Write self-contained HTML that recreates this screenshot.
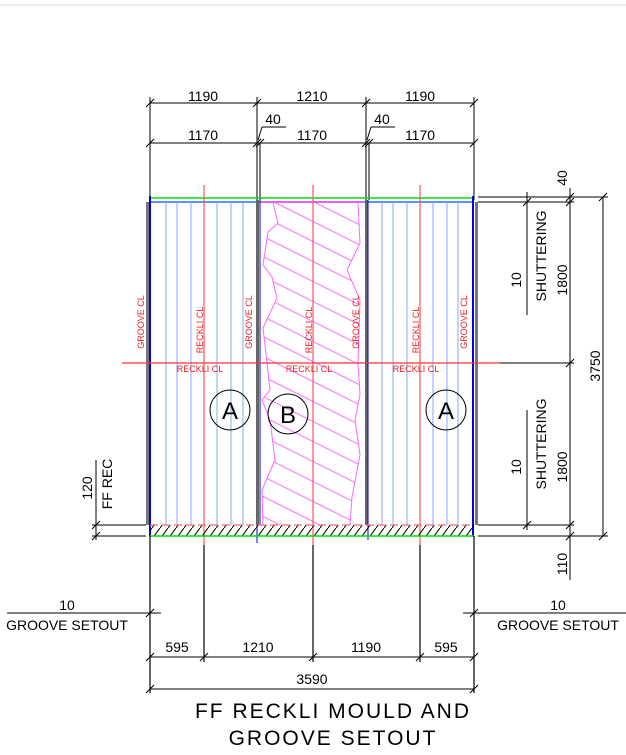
<!DOCTYPE html>
<html><head><meta charset="utf-8"><style>
html,body{margin:0;padding:0;background:#fff;}
svg{display:block;}
text{font-family:"Liberation Sans","DejaVu Sans",sans-serif;}
</style></head><body>
<svg width="626" height="755" viewBox="0 0 626 755" xmlns="http://www.w3.org/2000/svg">
<defs>
<clipPath id="zz"><polygon points="273,203 278,223 268,232 263,265 272,277 277,298 263,328 267,363 270,390 262,400 270,420 275,460 262,490 263,525 350,525 352,497 360,455 355,420 360,395 358,363 360,300 347,270 360,243 358,203"/></clipPath>
<pattern id="hatch" width="8" height="11" patternUnits="userSpaceOnUse"><line x1="0" y1="11" x2="8" y2="0" stroke="#000" stroke-width="1"/></pattern>
</defs>
<rect width="626" height="755" fill="#fff"/>
<line x1="0" y1="5" x2="626" y2="5" stroke="#ddd"/>

<g stroke="#000" stroke-width="1">
<line x1="150" y1="103" x2="474" y2="103"/>
<line x1="150" y1="143" x2="474" y2="143"/>
<line x1="150" y1="97" x2="150" y2="200"/>
<line x1="257" y1="97" x2="257" y2="200"/>
<line x1="366" y1="97" x2="366" y2="200"/>
<line x1="474" y1="97" x2="474" y2="200"/>
<line x1="260" y1="143" x2="260" y2="200"/>
<line x1="369" y1="143" x2="369" y2="200"/>
<line x1="262" y1="127" x2="286" y2="127"/><line x1="262" y1="127" x2="258" y2="140"/>
<line x1="371" y1="127" x2="395" y2="127"/><line x1="371" y1="127" x2="367" y2="140"/>
</g>
<g stroke="#000" stroke-width="1">
<path d="M146 107l8-8M253 107l8-8M362 107l8-8M470 107l8-8M146 147l8-8M253 147l8-8M256 147l8-8M362 147l8-8M365 147l8-8M470 147l8-8"/>
</g>
<g font-size="14" fill="#000" text-anchor="middle">
<text x="203" y="101">1190</text><text x="312" y="101">1210</text><text x="420" y="101">1190</text>
<text x="203" y="140">1170</text><text x="312" y="140">1170</text><text x="420" y="140">1170</text>
<text x="273" y="124">40</text><text x="382" y="124">40</text>
</g>

<line x1="150" y1="198" x2="474" y2="198" stroke="#0d0" stroke-width="1.5"/>
<line x1="150" y1="202" x2="474" y2="202" stroke="#36f" stroke-width="1.5"/>
<g stroke="#88a4ff" stroke-width="1">
<path d="M166 202V525M177 202V525M191 202V525M217 202V525M231 202V525M243 202V525M382 202V525M393 202V525M407 202V525M433 202V525M447 202V525M458 202V525"/>
</g>
<line x1="260" y1="202" x2="364" y2="202" stroke="#f4f" stroke-width="1.5"/>
<polyline points="273,203 278,223 268,232 263,265 272,277 277,298 263,328 267,363 270,390 262,400 270,420 275,460 262,490 263,525" fill="none" stroke="#f6f"/>
<polyline points="358,203 360,243 347,270 360,300 358,363 360,395 355,420 360,455 352,497 350,525" fill="none" stroke="#f6f"/>
<g clip-path="url(#zz)" stroke="#f6f" stroke-width="1">
<path d="M250 170l120 60M250 190l120 60M250 210l120 60M250 230l120 60M250 250l120 60M250 270l120 60M250 290l120 60M250 310l120 60M250 330l120 60M250 350l120 60M250 370l120 60M250 390l120 60M250 410l120 60M250 430l120 60M250 450l120 60M250 470l120 60M250 490l120 60M250 510l120 60"/>
</g>
<g>
<rect x="146" y="202" width="3" height="323" fill="#777"/>
<line x1="150" y1="196" x2="150" y2="536" stroke="#00e" stroke-width="2"/>
<rect x="256" y="200" width="3" height="325" fill="#666"/>
<line x1="260" y1="200" x2="260" y2="525" stroke="#00e" stroke-width="1"/>
<rect x="365" y="200" width="3" height="325" fill="#666"/>
<line x1="368" y1="200" x2="368" y2="540" stroke="#00e" stroke-width="1"/>
<line x1="257" y1="525" x2="257" y2="543" stroke="#00e"/>
<line x1="473" y1="196" x2="473" y2="536" stroke="#00e" stroke-width="2"/>
<rect x="475" y="202" width="3" height="323" fill="#777"/>
</g>
<g stroke="#f55" stroke-width="1.2">
<path d="M204 185V545M313 185V545M420 185V545"/>
<line x1="122" y1="363" x2="500" y2="363" stroke="#f33"/>
</g>
<g font-size="9" fill="#e22" text-anchor="middle">
<text transform="translate(144,322) rotate(-90)">GROOVE CL</text>
<text transform="translate(252,322) rotate(-90)">GROOVE CL</text>
<text transform="translate(359,322) rotate(-90)">GROOVE CL</text>
<text transform="translate(467,322) rotate(-90)">GROOVE CL</text>
<text transform="translate(203,330) rotate(-90)">RECKLI CL</text>
<text transform="translate(312,330) rotate(-90)">RECKLI CL</text>
<text transform="translate(419,330) rotate(-90)">RECKLI CL</text>
<text x="200" y="372">RECKLI CL</text><text x="309" y="372">RECKLI CL</text><text x="416" y="372">RECKLI CL</text>
</g>
<g fill="none" stroke="#000" stroke-width="1">
<circle cx="230" cy="410" r="20"/><circle cx="288" cy="414" r="20"/><circle cx="446" cy="410" r="20"/>
</g>
<g font-size="24" text-anchor="middle" fill="#000">
<text x="230" y="419">A</text><text x="288" y="423">B</text><text x="446" y="419">A</text>
</g>
<rect x="150" y="525" width="324" height="11" fill="url(#hatch)"/>
<line x1="150" y1="525" x2="474" y2="525" stroke="#f66" stroke-width="1.2" stroke-dasharray="8,4"/>
<line x1="150" y1="536" x2="474" y2="536" stroke="#0d0" stroke-width="1.5"/>

<g stroke="#000" stroke-width="1">
<line x1="478" y1="197" x2="608" y2="197"/>
<line x1="478" y1="202" x2="574" y2="202"/>
<line x1="478" y1="525" x2="574" y2="525"/>
<line x1="478" y1="536" x2="608" y2="536"/>
<line x1="500" y1="363" x2="574" y2="363"/>
<line x1="570" y1="188" x2="570" y2="580"/>
<line x1="603" y1="197" x2="603" y2="536"/>
<line x1="527" y1="192" x2="527" y2="315"/>
<line x1="527" y1="410" x2="527" y2="530"/>
<path d="M523 206l8-8M566 206l8-8M566 201l8-8M566 367l8-8M566 529l8-8M523 529l8-8M566 540l8-8M599 201l8-8M599 540l8-8"/>
</g>
<g font-size="14" fill="#000" text-anchor="middle">
<text transform="translate(567,178) rotate(-90)">40</text>
<text transform="translate(521,280) rotate(-90)">10</text>
<text transform="translate(546,256) rotate(-90)">SHUTTERING</text>
<text transform="translate(567,280) rotate(-90)">1800</text>
<text transform="translate(521,467) rotate(-90)">10</text>
<text transform="translate(546,444) rotate(-90)">SHUTTERING</text>
<text transform="translate(567,467) rotate(-90)">1800</text>
<text transform="translate(600,366) rotate(-90)">3750</text>
<text transform="translate(567,564) rotate(-90)">110</text>
</g>

<g stroke="#000" stroke-width="1">
<line x1="96" y1="460" x2="96" y2="540"/>
<line x1="92" y1="525" x2="146" y2="525"/>
<line x1="92" y1="536" x2="146" y2="536"/>
<path d="M92 529l8-8M92 540l8-8"/>
</g>
<g font-size="14" fill="#000" text-anchor="middle">
<text transform="translate(92,488) rotate(-90)">120</text>
<text transform="translate(112,484) rotate(-90)">FF REC</text>
</g>

<g stroke="#000" stroke-width="1.2">
<path d="M150 536V693M204 545V662M313 545V662M420 545V662M474 536V693"/>
</g>
<g stroke="#000" stroke-width="1">
<line x1="7" y1="613" x2="161" y2="613"/>
<line x1="463" y1="613" x2="626" y2="613"/>
<line x1="150" y1="657" x2="474" y2="657"/>
<line x1="150" y1="689" x2="474" y2="689"/>
<path d="M146 617l8-8M470 617l8-8M146 661l8-8M200 661l8-8M309 661l8-8M416 661l8-8M470 661l8-8M146 693l8-8M470 693l8-8"/>
</g>
<g font-size="14" fill="#000" text-anchor="middle">
<text x="67" y="610">10</text><text x="67" y="630">GROOVE SETOUT</text>
<text x="558" y="610">10</text><text x="558" y="630">GROOVE SETOUT</text>
<text x="177" y="652">595</text><text x="258" y="652">1210</text><text x="366" y="652">1190</text><text x="446" y="652">595</text>
<text x="312" y="684">3590</text>
</g>
<g font-size="21" fill="#000" text-anchor="middle" letter-spacing="2">
<text x="333" y="718">FF RECKLI MOULD AND</text>
<text x="333" y="745">GROOVE SETOUT</text>
</g>
</svg>
</body></html>
